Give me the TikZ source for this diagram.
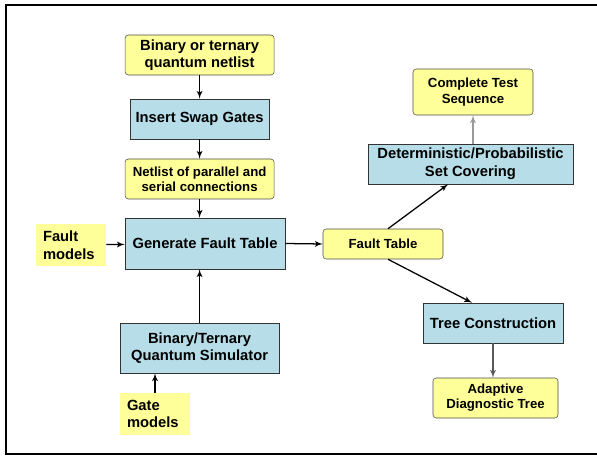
\documentclass[tikz,border=0pt]{standalone}
\usepackage{fontspec}
\setmainfont{Liberation Sans}
\usepackage{tikz}
\usetikzlibrary{arrows}
\definecolor{noteyellow}{RGB}{255,255,153}
\definecolor{stepblue}{RGB}{183,222,232}

\begin{document}
\begin{tikzpicture}[>=latex',
	bigtext/.style={font=\fontsize{10.5}{12.5}\selectfont\bfseries},
	smalltext/.style={font=\fontsize{9.4}{10.8}\selectfont\bfseries},
	datanode/.style={draw=black!70,fill=noteyellow,rounded corners=0.08cm,align=center,inner sep=0pt},
	procnode/.style={draw=black!80,fill=stepblue,align=center,inner sep=0pt},
	modelnode/.style={fill=noteyellow,align=left,inner xsep=0.175cm,inner ysep=0pt,text width=1.4cm,minimum height=1.05cm},
	flow/.style={->,line width=0.9pt}]
	\useasboundingbox (0,0) rectangle (14.925,11.4);
	% frame
	\draw[line width=1.4pt] (14.925,11.275) -- (0.15,11.275) -- (0.15,0.05) -- (14.925,0.05);
	%
	\node[datanode,bigtext,minimum width=3.725cm,minimum height=1cm] (netlist) at (4.99,10.025) {Binary or ternary\\quantum netlist};
	\node[procnode,bigtext,minimum width=3.475cm,minimum height=1cm] (swap) at (4.99,8.425) {Insert Swap Gates};
	\node[datanode,smalltext,minimum width=3.725cm,minimum height=1cm] (serial) at (4.99,6.925) {Netlist of parallel and\\serial connections};
	\node[procnode,bigtext,minimum width=4cm,minimum height=1.275cm] (generate) at (5.125,5.3125) {Generate Fault Table};
	\node[modelnode,bigtext] (faultmodels) at (1.775,5.275) {Fault\\models};
	\node[procnode,bigtext,minimum width=3.975cm,minimum height=1.25cm] (simulator) at (4.99,2.7) {Binary/Ternary\\Quantum Simulator};
	\node[modelnode,bigtext] (gatemodels) at (3.875,1.05) {Gate\\models};
	%
	\node[datanode,smalltext,minimum width=3cm,minimum height=0.75cm] (faulttable) at (9.575,5.3) {Fault Table};
	\node[procnode,bigtext,minimum width=5.125cm,minimum height=1cm] (covering) at (11.7625,7.3) {Deterministic/Probabilistic\\Set Covering};
	\node[datanode,smalltext,minimum width=3cm,minimum height=1.15cm] (testseq) at (11.825,9.1) {Complete Test\\Sequence};
	\node[procnode,bigtext,minimum width=3.5cm,minimum height=1cm] (tree) at (12.325,3.325) {Tree Construction};
	\node[datanode,smalltext,minimum width=3.125cm,minimum height=1cm] (adaptive) at (12.3875,1.45) {Adaptive\\Diagnostic Tree};
	%
	\draw[flow] (netlist) -- (swap);
	\draw[flow] (swap) -- (serial);
	\draw[flow] (serial.south) -- (serial.south |- generate.north);
	\draw[flow] (faultmodels) -- (generate);
	\draw[flow] (simulator.north) -- (simulator.north |- generate.south);
	\draw[flow] (gatemodels) -- (gatemodels |- simulator.south);
	\draw[flow] (generate.east) -- (faulttable.west);
	%
	\draw[flow] ([xshift=0.125cm]faulttable.north) -- ([xshift=-0.56cm]covering.south);
	\draw[flow] ([xshift=0.125cm]faulttable.south) -- ([xshift=-0.525cm]tree.north);
	\draw[flow,black!40] (covering.north -| testseq.south) -- (testseq.south);
	\draw[flow,black!65] (tree.south) -- (tree.south |- adaptive.north);
\end{tikzpicture}
\end{document}
